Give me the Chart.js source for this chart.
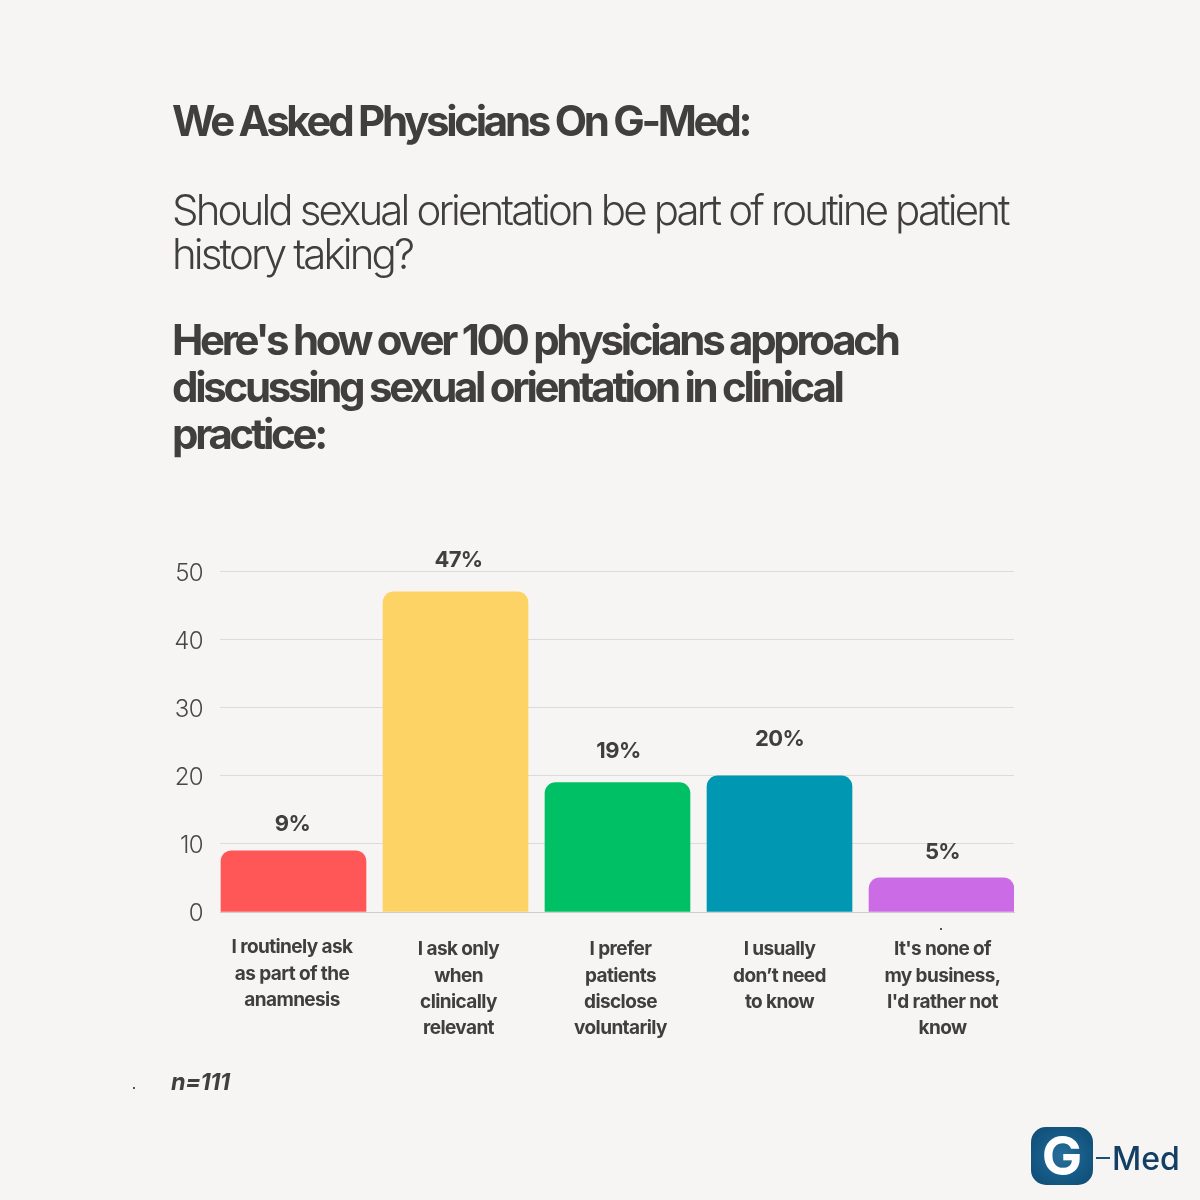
<!DOCTYPE html>
<html>
<head>
<meta charset="utf-8">
<script src="https://cdn.jsdelivr.net/npm/chart.js"></script>
<style>
  html, body { margin: 0; padding: 0; background: #f6f5f4; }
  body { width: 1200px; height: 1200px; position: relative; overflow: hidden; font-family: Inter, sans-serif; color: #413f3d; }
  canvas { position: absolute; left: 0; top: 0; }
  .txt { position: absolute; left: 172px; width: 880px; white-space: nowrap; }
  .bold { font-weight: 700; font-size: 42px; line-height: 47px; letter-spacing: -3.3px; }
  .light { font-weight: 300; font-size: 42px; line-height: 44.5px; letter-spacing: -2.87px; }
  .note { font-weight: 700; font-style: italic; font-size: 23.5px; line-height: 26px; letter-spacing: -0.5px; left: 171px; top: 1069px; }
  .speck { position: absolute; width: 2px; height: 2px; background: #555; }
  .logo-box { position: absolute; left: 1031px; top: 1127px; width: 62px; height: 58px; border-radius: 15px;
    background: radial-gradient(ellipse at center, #27709b 0%, #155a85 55%, #0f4a72 100%); color: #fff;
    font-weight: 700; font-size: 54px; line-height: 58px; text-align: center; }
  .logo-dash { position: absolute; left: 1096px; top: 1157px; width: 14px; height: 2px; background: #1b4f75; }
  .logo-med { position: absolute; left: 1112px; top: 1141px; font-size: 32px; line-height: 36px; font-weight: 500; color: #123f63; }
</style>
</head>
<body>
<canvas id="chart" width="1200" height="1200"></canvas>
<div class="txt bold" style="top:96.5px">We Asked Physicians On G-Med:</div>
<div class="txt light" style="top:187.5px">Should sexual orientation be part of routine patient<br>history taking?</div>
<div class="txt bold" style="top:316px">Here's how over 100 physicians approach<br>discussing sexual orientation in clinical<br>practice:</div>
<div class="txt note">n=111</div>
<div class="speck" style="left:133px;top:1087px"></div>
<div class="speck" style="left:940px;top:928px"></div>
<div class="logo-box">G</div>
<div class="logo-dash"></div>
<div class="logo-med">Med</div>
<script>
const categories = [
  ["I routinely ask", "as part of the", "anamnesis"],
  ["I ask only", "when", "clinically", "relevant"],
  ["I prefer", "patients", "disclose", "voluntarily"],
  ["I usually", "don\u2019t need", "to know"],
  ["It's none of", "my business,", "I'd rather not", "know"],
];
const positions = [0, 1, 2, 3, 4];
const percents = [9, 47, 19, 20, 5];
const barColors = ["#ff5757", "#fdd365", "#00c065", "#0097b2", "#cb6ce6"];
const yTicks = [0, 10, 20, 30, 40, 50];

// the labels in the original sit a little unevenly, so nudge them by hand
const valueLift = [26, 32, 31, 36, 26];
const valueShift = [-1, 3, 1, 0, 1];
const tickShiftX = [-1.5, 3, 3, 0, 1];
const tickShiftY = [-2, 0, 0, 0, 0];
const yLabelDrop = 2;

const inkColor = "#413f3d";

const tweaks = {
  id: "tweaks",
  // tick label items are cached after the layout, so this only runs once per update
  afterUpdate(chart) {
    chart.scales.x.getLabelItems().forEach((item, i) => {
      item.options.translation[0] += tickShiftX[i];
      item.options.translation[1] += tickShiftY[i];
    });
    chart.scales.y.getLabelItems().forEach((item) => {
      item.options.translation[1] += yLabelDrop;
    });
  },
  beforeDraw(chart) {
    chart.ctx.letterSpacing = "-0.6px";
  },
  afterDatasetsDraw(chart) {
    const { ctx } = chart;
    const bars = chart.getDatasetMeta(0).data;
    ctx.save();
    ctx.font = "700 22px Inter";
    ctx.fillStyle = inkColor;
    ctx.textAlign = "center";
    ctx.textBaseline = "middle";
    bars.forEach((bar, i) => {
      ctx.fillText(percents[i] + "%", bar.x + valueShift[i], bar.y - valueLift[i]);
    });
    ctx.restore();
  },
};

new Chart(document.getElementById("chart"), {
  type: "bar",
  data: {
    datasets: [{
      data: positions.map((x, i) => ({ x, y: percents[i] })),
      backgroundColor: barColors,
      barThickness: 145,
      borderRadius: { topLeft: 11, topRight: 11 },
      borderSkipped: "bottom",
    }],
  },
  plugins: [tweaks],
  options: {
    responsive: false,
    animation: false,
    devicePixelRatio: 1,
    layout: { padding: { top: 571.5, right: 186, left: 0, bottom: 0 } },
    plugins: { legend: { display: false }, tooltip: { enabled: false } },
    scales: {
      x: {
        type: "linear",
        offset: false,
        min: -0.4537,
        max: 4.4475,
        grid: { display: false },
        border: { color: "#cfcdcb", width: 1 },
        afterFit(scale) { scale.height = 288; },
        afterBuildTicks(scale) { scale.ticks = positions.map((value) => ({ value })); },
        ticks: {
          autoSkip: false,
          maxRotation: 0,
          minRotation: 0,
          padding: 16.5,
          color: inkColor,
          font: { family: "Inter", size: 19, weight: "700", lineHeight: "26.2px" },
          callback: (value) => categories[value],
        },
      },
      y: {
        min: 0,
        max: 50,
        afterFit(scale) { scale.width = 220; },
        afterBuildTicks(scale) { scale.ticks = yTicks.map((value) => ({ value })); },
        grid: { color: "#dddbd9", lineWidth: 1, drawTicks: false },
        border: { display: false },
        ticks: {
          padding: 17,
          color: "#4a4846",
          font: { family: "Inter", size: 24, weight: "300" },
        },
      },
    },
  },
});
</script>
</body>
</html>
